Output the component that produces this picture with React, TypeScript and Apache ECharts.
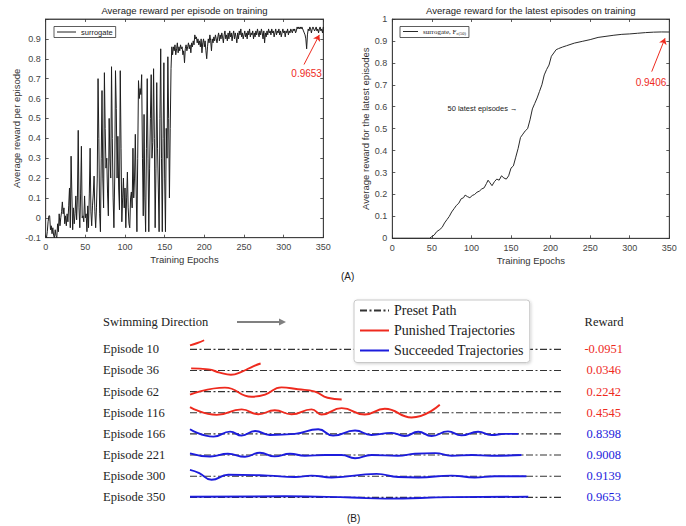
import React, { useEffect, useRef } from 'react';
import * as echarts from 'echarts';

// ---------- Top-left: average reward per episode (epochs 0..350) ----------
const rewardPerEpisode = [
  -0.09, -0.1, -0.07, -0.02, 0.01, 0.01, -0.06, -0.04, -0.08, -0.05,
  -0.09, -0.1, -0.06, -0.09, -0.1, -0.03, -0.07, 0.02, -0.04, 0.0,
  0.03, 0.08, 0.02, 0.05, -0.03, 0.01, -0.04, 0.02, -0.02, 0.06,
  0.15, -0.05, 0.31, 0.12, -0.06, 0.05, -0.03, 0.02, 0.11, -0.01,
  0.1, 0.44, 0.05, -0.05, 0.12, 0.36, 0.0, 0.01, -0.02, 0.11,
  0.0, 0.02, -0.07, 0.06, -0.05, 0.12, 0.35, 0.03, -0.04, 0.06,
  0.12, 0.21, 0.03, -0.05, 0.05, 0.2, 0.7, 0.4, 0.02, -0.07,
  0.3, 0.64, 0.2, 0.05, 0.73, 0.45, 0.25, 0.3, 0.12, 0.01,
  0.5, 0.3, 0.2, 0.76, 0.4, 0.1, -0.05, 0.2, 0.74, 0.55,
  0.2, 0.41, 0.15, 0.04, 0.74, 0.35, -0.02, 0.1, 0.2, 0.05,
  0.15, -0.05, 0.1, 0.23, 0.05, -0.03, -0.05, 0.1, 0.13, 0.05,
  0.35, 0.1, 0.2, 0.42, 0.15, -0.07, 0.3, 0.69, 0.6, 0.65,
  0.62, 0.72, 0.3, 0.01, 0.52, 0.1, -0.07, 0.35, 0.7, 0.3,
  -0.07, 0.25, 0.5, 0.72, 0.3, 0.38, 0.75, 0.4, -0.05, 0.25,
  0.68, 0.35, 0.15, -0.07, 0.5, 0.85, 0.3, -0.07, 0.4, 0.78,
  0.2, -0.07, 0.45, 0.3, 0.81, 0.5, 0.1, 0.45, 0.75, 0.86,
  0.82, 0.86, 0.84, 0.87, 0.82, 0.85, 0.88, 0.83, 0.86, 0.84,
  0.87, 0.85, 0.86, 0.82, 0.84, 0.78, 0.85, 0.87, 0.84, 0.86,
  0.88, 0.85, 0.87, 0.83, 0.88, 0.86, 0.89, 0.87, 0.92, 0.9,
  0.91, 0.88, 0.9, 0.87, 0.89, 0.86, 0.9, 0.83, 0.88, 0.9,
  0.86, 0.89, 0.84, 0.8, 0.86, 0.9, 0.88, 0.92, 0.89, 0.84,
  0.9, 0.88, 0.91, 0.89, 0.92, 0.9, 0.88, 0.91, 0.93, 0.89,
  0.92, 0.9, 0.93, 0.91, 0.88, 0.92, 0.94, 0.9, 0.92, 0.89,
  0.93, 0.9, 0.94, 0.91, 0.93, 0.89, 0.92, 0.94, 0.9, 0.93,
  0.91, 0.88, 0.93, 0.9, 0.94, 0.92, 0.95, 0.91, 0.93, 0.9,
  0.92, 0.94, 0.91, 0.93, 0.9, 0.94, 0.92, 0.95, 0.91, 0.93,
  0.92, 0.94, 0.9, 0.93, 0.91, 0.94, 0.92, 0.95, 0.93, 0.91,
  0.94, 0.92, 0.95, 0.93, 0.9, 0.94, 0.88, 0.93, 0.91, 0.94,
  0.92, 0.95, 0.93, 0.94, 0.92, 0.95, 0.93, 0.94, 0.91, 0.93,
  0.95, 0.92, 0.94, 0.93, 0.95, 0.92, 0.94, 0.91, 0.93, 0.95,
  0.93, 0.94, 0.91, 0.94, 0.93, 0.95, 0.92, 0.94, 0.93, 0.95,
  0.94, 0.93, 0.95, 0.94, 0.95, 0.93, 0.94, 0.96, 0.95, 0.96,
  0.95, 0.96, 0.95, 0.96, 0.95, 0.94, 0.93, 0.92, 0.9, 0.85,
  0.92, 0.95, 0.94, 0.96, 0.95, 0.93, 0.95, 0.96, 0.95, 0.94,
  0.95, 0.96, 0.94, 0.95, 0.93, 0.95, 0.96, 0.94, 0.95, 0.93, 0.96,
];

// ---------- Top-right: average reward of latest 50 episodes ----------
const latestEpochs = [
  0, 10, 20, 30, 40, 47, 50, 53, 56, 60, 63, 66, 69, 72, 75, 78, 81, 84, 87, 90,
  92, 95, 98, 101, 104, 107, 110, 113, 116, 119, 121, 123, 126, 129, 132, 135, 138, 141, 144, 147,
  150, 153, 156, 159, 162, 165, 168, 171, 174, 177, 180, 183, 186, 189, 192, 195, 198, 201, 204, 207,
  210, 215, 220, 230, 240, 250, 260, 270, 280, 290, 300, 310, 320, 330, 340, 350,
];
const latestValues = [
  0, 0, 0, 0, 0, 0, 0.008, 0.015, 0.03, 0.04, 0.05, 0.07, 0.085, 0.1, 0.12, 0.135, 0.15, 0.16, 0.18, 0.185,
  0.197, 0.19, 0.185, 0.195, 0.2, 0.21, 0.215, 0.225, 0.23, 0.25, 0.265, 0.255, 0.24, 0.258, 0.27, 0.265, 0.285, 0.275, 0.27, 0.285,
  0.32, 0.33, 0.37, 0.41, 0.46, 0.475, 0.49, 0.5, 0.54, 0.59, 0.615, 0.64, 0.67, 0.7, 0.745, 0.77, 0.79, 0.83, 0.845, 0.86,
  0.865, 0.872, 0.878, 0.89, 0.898, 0.906, 0.916, 0.921, 0.926, 0.93, 0.932, 0.935, 0.938, 0.94, 0.941, 0.9406,
];

const epochAxisTicks = { min: 0, max: 350, interval: 50 };
const finalReward = '0.9653';
const finalLatest = '0.9406';

// ---------- Bottom: trajectories ----------
const episodes = [10, 36, 62, 116, 166, 221, 300, 350];
const episodeRewards = [-0.0951, 0.0346, 0.2242, 0.4545, 0.8398, 0.9008, 0.9139, 0.9653];
const succeeded = [false, false, false, false, true, true, true, true];
// x: distance along the preset path (0..100), dev: lateral deviation in row units (down positive)
const trajX = [
  [0, 2, 3.8],
  [0.3, 5, 8, 11, 14, 17, 19],
  [0, 9.4, 16.6, 20.2, 24.6, 29, 33.6, 37, 40.8],
  [0, 7.2, 13.9, 18.4, 22.8, 27.3, 32.7, 35.4, 40.8, 47, 52.4, 59.6, 67.2],
  [0, 6.3, 10.8, 13.9, 17.5, 21.5, 28.2, 34.5, 38.5, 44.4, 48.8, 54.2, 57.8, 61.4, 65, 69.4, 73, 77.5, 81.1, 84.7, 88.3],
  [0, 5.4, 10.2, 14.8, 18.8, 22.8, 26.9, 30.9, 36.3, 40.8, 44.4, 48.8, 55.9, 60.5, 65.9, 70.4, 75.8, 81.1, 89.2],
  [0, 2.5, 5.8, 10.3, 21, 28.2, 32.7, 38.1, 50.2, 56, 61.4, 70.4, 76.6, 82, 90.5],
  [0, 25.5, 43.5, 52.4, 70.4, 91],
];
const trajDev = [
  [-0.19, -0.3, -0.43],
  [-0.1, -0.05, 0.1, 0.2, 0.05, -0.2, -0.33],
  [0.14, -0.19, 0.24, 0.14, -0.2, -0.11, 0, 0.29, 0.37],
  [-0.27, 0.1, -0.16, 0.07, -0.12, 0.07, -0.16, 0.08, -0.22, 0.08, -0.19, 0.22, -0.38],
  [-0.22, 0.13, -0.11, 0.08, -0.14, 0.05, 0, -0.22, 0.08, -0.16, 0.05, -0.05, 0.1, -0.1, 0.1, -0.12, 0.07, -0.1, 0.05, 0, 0],
  [-0.08, 0.07, -0.06, 0.08, -0.11, 0.06, -0.06, 0.03, 0, 0, 0.15, 0, 0.03, -0.06, -0.09, 0.03, 0, 0.03, 0],
  [-0.3, -0.15, 0.17, -0.07, -0.03, 0.04, -0.03, 0.06, -0.11, 0.04, 0.06, -0.03, 0.06, 0, 0],
  [-0.03, -0.05, 0.01, 0.06, -0.01, -0.03],
];
const presetPath = [0, 100];

const SANS = '"Liberation Sans", Arial, sans-serif';
const SERIF = '"Liberation Serif", "Times New Roman", serif';
const RED = '#ee2a1e';
const BLUE = '#1c1cdc';
const AXIS = '#333';
const LABEL = '#444';

function topXAxis(grid: number, bottom: boolean) {
  return {
    type: 'value', gridIndex: grid, position: bottom ? 'bottom' : 'top',
    ...epochAxisTicks,
    name: bottom ? 'Training Epochs' : '', nameLocation: 'middle', nameGap: 17,
    nameTextStyle: { fontFamily: SANS, fontSize: 9.5, color: AXIS },
    axisLine: { show: true, onZero: false, lineStyle: { color: AXIS, width: 0.8 } },
    axisTick: { show: true, inside: true, length: 3, lineStyle: { color: AXIS, width: 0.8 } },
    axisLabel: { show: bottom, fontFamily: SANS, fontSize: 9, color: LABEL, margin: 5 },
    splitLine: { show: false },
  };
}

function topYAxis(grid: number, left: boolean, min: number, max: number, name: string, gap: number, fmt: (v: number) => string) {
  return {
    type: 'value', gridIndex: grid, position: left ? 'left' : 'right',
    min, max, interval: 0.1,
    name: left ? name : '', nameLocation: 'middle', nameGap: gap,
    nameTextStyle: { fontFamily: SANS, fontSize: 9.5, color: AXIS },
    axisLine: { show: true, onZero: false, lineStyle: { color: AXIS, width: 0.8 } },
    axisTick: { show: true, inside: true, length: 3, lineStyle: { color: AXIS, width: 0.8 } },
    axisLabel: { show: left, fontFamily: SANS, fontSize: 9, color: LABEL, margin: 5, formatter: fmt },
    splitLine: { show: false },
  };
}

export default function App() {
  const ref = useRef<HTMLDivElement>(null);
  useEffect(() => {
    if (!ref.current) return;
    const chart = echarts.init(ref.current, undefined, { renderer: 'svg' });

    const trajSeries: any[] = [];
    episodes.forEach((_, row) => {
      trajSeries.push({
        name: 'Preset Path', type: 'line', xAxisIndex: 2, yAxisIndex: 2,
        data: presetPath.map((x) => [x, row]),
        symbol: 'none', silent: true, z: 2,
        lineStyle: { color: '#333', width: 1.1, type: [7, 2.5, 2, 2.5] },
        itemStyle: { color: '#333' },
      });
    });
    episodes.forEach((_, row) => {
      const color = succeeded[row] ? BLUE : RED;
      trajSeries.push({
        name: succeeded[row] ? 'Succeeded Trajectories' : 'Punished Trajectories',
        type: 'line', xAxisIndex: 2, yAxisIndex: 2,
        data: trajX[row].map((x, i) => [x, row + trajDev[row][i]]),
        smooth: 0.5, symbol: 'none', silent: true, z: 3,
        lineStyle: { color, width: 1.9 },
        itemStyle: { color },
      });
    });

    const option: any = {
      animation: false,
      title: [
        { text: 'Average reward per episode on training', left: 184.5, top: 5, textAlign: 'center', padding: 0,
          textStyle: { fontFamily: SANS, fontSize: 9.5, fontWeight: 'normal', color: '#222' } },
        { text: 'Average reward for the latest episodes on training', left: 530.8, top: 5, textAlign: 'center', padding: 0,
          textStyle: { fontFamily: SANS, fontSize: 9.5, fontWeight: 'normal', color: '#222' } },
      ],
      legend: [
        { data: ['surrogate'], left: 54, top: 26.5, orient: 'horizontal', selectedMode: false, icon: 'inherit',
          itemWidth: 19, itemHeight: 6, itemTextGap: 3, padding: [1.5, 3, 1.5, 2.5],
          borderColor: '#333', borderWidth: 0.8, backgroundColor: '#fff',
          itemStyle: { opacity: 0 }, lineStyle: { width: 1 },
          textStyle: { fontFamily: SANS, fontSize: 7.5, color: '#222' } },
        { data: ['surrogate, Fc(50)'], left: 400, top: 26.5, orient: 'horizontal', selectedMode: false, icon: 'inherit',
          itemWidth: 15, itemHeight: 6, itemTextGap: 3, padding: [1.5, 3, 1.5, 2.5],
          borderColor: '#333', borderWidth: 0.8, backgroundColor: '#fff',
          itemStyle: { opacity: 0 }, lineStyle: { width: 1 },
          formatter: () => 'surrogate, F{s|c(50)}',
          textStyle: { fontFamily: SERIF, fontSize: 7, color: '#222', rich: { s: { fontFamily: SERIF, fontSize: 4.5, color: '#222', padding: [4, 0, 0, 0] } } } },
        { data: ['Preset Path', 'Punished Trajectories', 'Succeeded Trajectories'], left: 354, top: 300, icon: 'inherit',
          orient: 'vertical', selectedMode: false, itemWidth: 29, itemHeight: 14, itemGap: 6, itemTextGap: 12,
          padding: [3.5, 6, 5, 5], borderColor: '#c8c8c8', borderWidth: 1, borderRadius: 3, backgroundColor: '#fff',
          shadowBlur: 3, shadowColor: 'rgba(0,0,0,0.18)', shadowOffsetX: 1, shadowOffsetY: 1,
          itemStyle: { opacity: 0 },
          textStyle: { fontFamily: SERIF, fontSize: 14, color: '#222' } },
      ],
      grid: [
        { left: 45.7, top: 19, width: 277.6, height: 218.7, show: true, borderColor: AXIS, borderWidth: 0.8, backgroundColor: 'transparent' },
        { left: 392.3, top: 19, width: 277, height: 219.3, show: true, borderColor: AXIS, borderWidth: 0.8, backgroundColor: 'transparent' },
        { left: 190, top: 328.2, width: 371.7, height: 190.3 },
      ],
      xAxis: [
        topXAxis(0, true),
        topXAxis(1, true),
        { type: 'value', gridIndex: 2, min: 0, max: 100, show: false },
        topXAxis(0, false),
        topXAxis(1, false),
      ],
      yAxis: [
        topYAxis(0, true, -0.1, 1, 'Average reward per episode', 18, (v: number) => (v > 0.95 ? '' : String(Math.round(v * 10) / 10))),
        topYAxis(1, true, 0, 1, 'Average reward for the latest episodes', 17, (v: number) => String(Math.round(v * 10) / 10)),
        { type: 'value', gridIndex: 2, min: -1, max: 8, interval: 1, inverse: true, position: 'left',
          axisLine: { show: false }, axisTick: { show: false }, splitLine: { show: false },
          axisLabel: { align: 'left', margin: 87, fontFamily: SERIF, fontSize: 12.5, color: '#222',
            formatter: (v: number) => (v >= 0 && v < episodes.length ? 'Episode ' + episodes[v] : '') } },
        { type: 'value', gridIndex: 2, min: -1, max: 8, interval: 1, inverse: true, position: 'right',
          axisLine: { show: false }, axisTick: { show: false }, splitLine: { show: false },
          axisLabel: { align: 'center', margin: 42, fontFamily: SERIF, fontSize: 12.5,
            formatter: (v: number) => (v >= 0 && v < episodes.length
              ? (succeeded[v] ? '{b|' : '{r|') + episodeRewards[v].toFixed(4) + '}' : ''),
            rich: { r: { color: RED, fontFamily: SERIF, fontSize: 12.5 }, b: { color: BLUE, fontFamily: SERIF, fontSize: 12.5 } } } },
        topYAxis(0, false, -0.1, 1, '', 0, () => ''),
        topYAxis(1, false, 0, 1, '', 0, () => ''),
      ],
      series: [
        {
          name: 'surrogate', type: 'line', xAxisIndex: 0, yAxisIndex: 0,
          data: rewardPerEpisode.map((v, i) => [i, v]),
          symbol: 'none', lineStyle: { color: '#1e1e1e', width: 1 }, itemStyle: { color: '#1e1e1e' }, z: 3,
          markLine: { silent: true, symbol: ['none', 'arrow'], symbolSize: 6,
            lineStyle: { color: RED, width: 1, type: 'solid' }, label: { show: false },
            data: [[{ coord: [325.7, 0.771] }, { coord: [345, 0.92] }]] },
          markPoint: { silent: true, symbol: 'circle', symbolSize: 0,
            data: [{ coord: [329, 0.7275], label: { show: true, position: 'inside', formatter: finalReward, color: RED, fontFamily: SANS, fontSize: 10 } }] },
        },
        {
          name: 'surrogate, Fc(50)', type: 'line', xAxisIndex: 1, yAxisIndex: 1,
          data: latestEpochs.map((e, i) => [e, latestValues[i]]),
          symbol: 'none', lineStyle: { color: '#2a2a2a', width: 1 }, itemStyle: { color: '#2a2a2a' }, z: 3,
          markLine: { silent: true, symbol: ['none', 'arrow'], symbolSize: 6,
            lineStyle: { color: RED, width: 1, type: 'solid' }, label: { show: false },
            data: [[{ coord: [327.8, 0.76] }, { coord: [344.6, 0.912] }]] },
          markPoint: { silent: true, symbol: 'circle', symbolSize: 0,
            data: [
              { coord: [326.9, 0.711], label: { show: true, position: 'inside', formatter: finalLatest, color: RED, fontFamily: SANS, fontSize: 10 } },
              { coord: [114, 0.593], label: { show: true, position: 'inside', formatter: '50 latest episodes \u2192', color: '#222', fontFamily: SANS, fontSize: 7.5 } },
            ] },
        },
        ...trajSeries,
      ],
      graphic: [
        { type: 'text', left: 341, top: 271, style: { text: '(A)', font: `10px ${SANS}`, fill: '#222' } },
        { type: 'text', left: 347, top: 513, style: { text: '(B)', font: `10px ${SANS}`, fill: '#222' } },
        { type: 'text', x: 103, y: 322, style: { text: 'Swimming Direction', font: `12.5px ${SERIF}`, fill: '#222', verticalAlign: 'middle' } },
        { type: 'text', x: 604, y: 322, style: { text: 'Reward', font: `12.5px ${SERIF}`, fill: '#222', align: 'center', verticalAlign: 'middle' } },
        { type: 'line', shape: { x1: 237, y1: 322, x2: 280, y2: 322 }, style: { stroke: '#808080', lineWidth: 2.2 } },
        { type: 'polygon', shape: { points: [[279, 318.5], [286, 322], [279, 325.5]] }, style: { fill: '#808080' } },
      ],
    };
    chart.setOption(option);
    return () => chart.dispose();
  }, []);
  return <div ref={ref} style={{ position: 'absolute', left: 0, top: 0, width: 686, height: 526, background: '#fff' }} />;
}
